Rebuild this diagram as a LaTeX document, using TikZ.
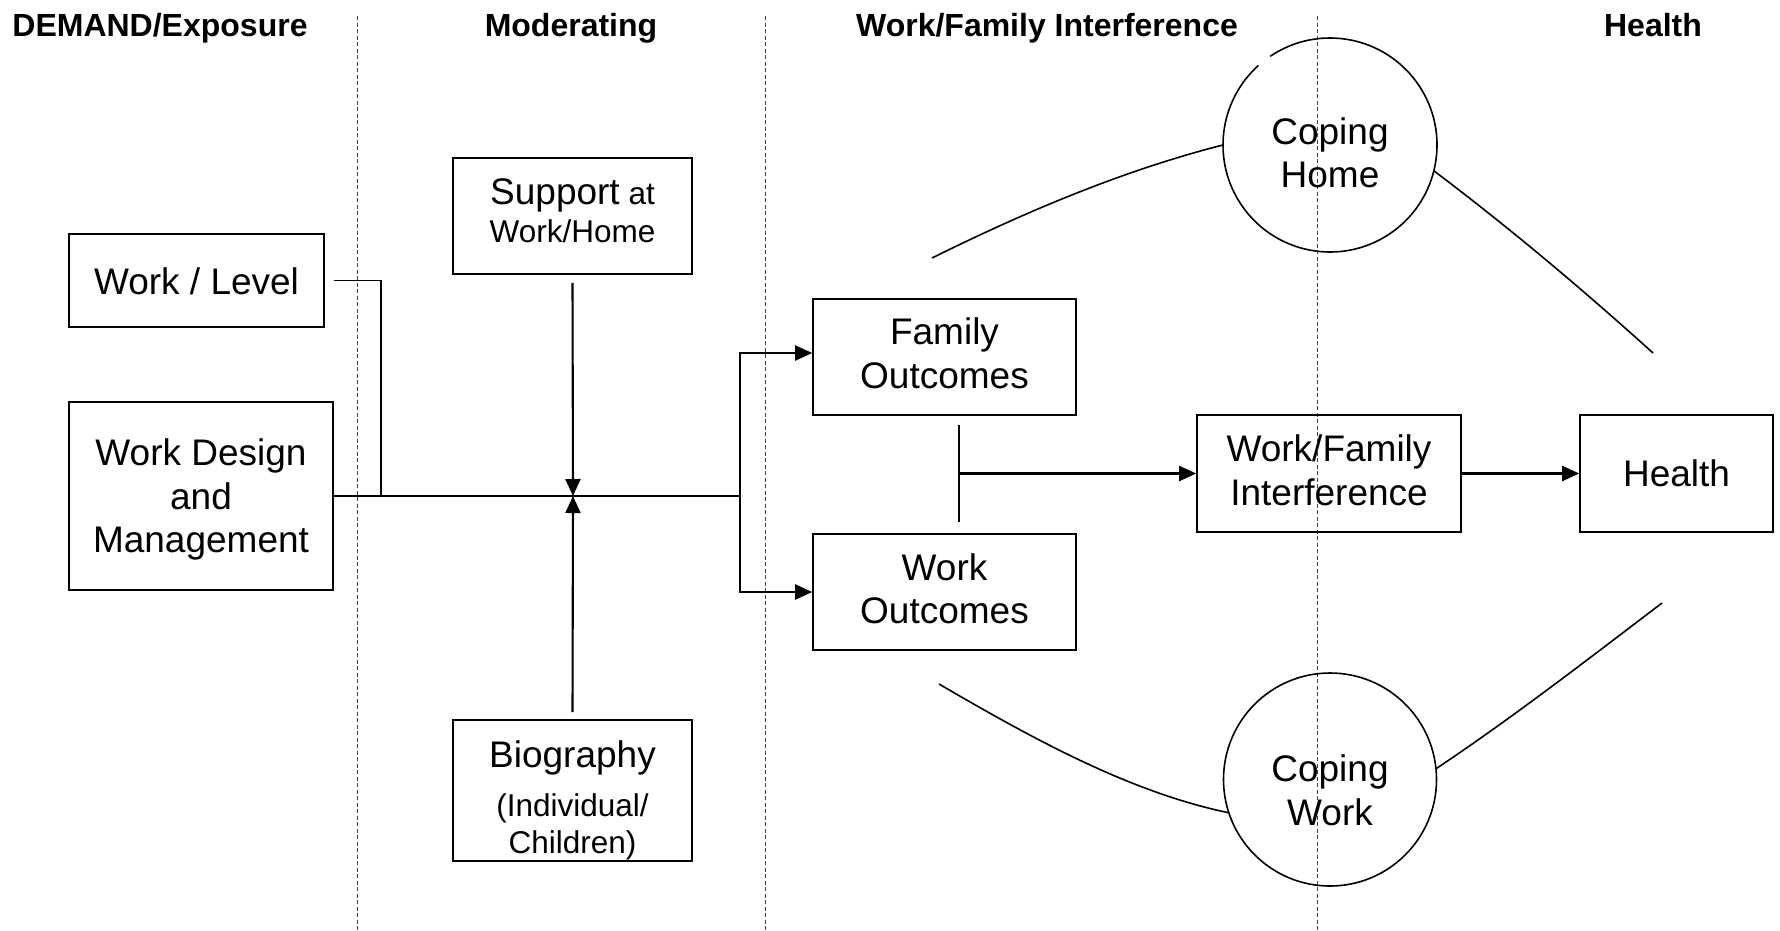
\documentclass[tikz,border=0pt]{standalone}
\usepackage{fontspec}
\setmainfont{Liberation Sans}
\usetikzlibrary{arrows.meta}
\begin{document}
\begin{tikzpicture}[x=1pt,y=-1pt,
  box/.style={draw, line width=1.6pt, inner sep=0pt},
  txt/.style={inner sep=0pt, align=center, font=\fontsize{37}{43.5}\selectfont},
  hdr/.style={font=\fontsize{32}{36}\selectfont\bfseries, inner sep=0pt, anchor=base},
  conn/.style={line width=2.1pt},
  thin/.style={line width=1.6pt},
  arr/.style={conn, -{Triangle[length=17pt,width=15pt]}},
  sep/.style={line width=0.9pt, dash pattern=on 4pt off 2.5pt, black!75},
  ring/.style={circle, minimum size=214pt, inner sep=0pt},
  curve/.style={line width=1.6pt}]

\useasboundingbox (0,0) rectangle (1780,930);

% column separators
\coordinate (s1t) at (357,16);  \coordinate (s1b) at (357,930);
\coordinate (s2t) at (765,16);  \coordinate (s2b) at (765,930);
\coordinate (s3t) at (1317,16); \coordinate (s3b) at (1317,930);
\draw[sep] (s1t) -- (s1b);
\draw[sep] (s2t) -- (s2b);
\draw[sep] (s3t) -- (s3b);

% headers
\node[hdr] (h1) at (160,36) {DEMAND/Exposure};
\node[hdr] (h2) at (571,36) {Moderating};
\node[hdr] (h3) at (1047,36) {Work/Family Interference};
\node[hdr] (h4) at (1653,36) {Health};

% boxes
\node[box, minimum width=255pt, minimum height=93pt] (wl) at (196.5,280.5) {};
\node[txt] (wlt) at (196.5,281.5) {Work / Level};

\node[box, minimum width=264pt, minimum height=188pt] (wd) at (201,496) {};
\node[txt] (wdt) at (201,499.5) {Work Design\\and\\Management};

\node[box, minimum width=239pt, minimum height=116pt] (sup) at (572.5,216) {};
\node[txt, font=\fontsize{31.5}{38.5}\selectfont] (supt) at (572.5,210.5)
  {{\fontsize{37}{38.5}\selectfont Support} at\\Work/Home};

\node[box, minimum width=239pt, minimum height=141pt] (bio) at (572.5,790.5) {};
\node[txt, font=\fontsize{31.5}{37}\selectfont] (biot) at (572.5,800)
  {{\fontsize{37}{43}\selectfont Biography}\\[12pt](Individual/\\Children)};

\node[box, minimum width=263pt, minimum height=116pt] (fo) at (944.5,357) {};
\node[txt] (fot) at (944.5,353.5) {Family\\Outcomes};

\node[box, minimum width=263pt, minimum height=116pt] (wo) at (944.5,592) {};
\node[txt] (wot) at (944.5,589) {Work\\Outcomes};

\node[box, minimum width=264pt, minimum height=117pt] (wfi) at (1329,473.5) {};
\node[txt] (wfit) at (1329,470.5) {Work/Family\\Interference};

\node[box, minimum width=193pt, minimum height=117pt] (hl) at (1676.5,473.5) {};
\node[txt] (hlt) at (1676.5,473.5) {Health};

% coping circles
\node[ring] (ch) at (1330,145) {};
\draw[curve] (ch.center) ++(-124:107) arc[start angle=-124, end angle=228, radius=107];
\node[txt] (cht) at (1330,153) {Coping\\Home};
\node[ring] (cw) at (1330,779.5) {};
\draw[curve] (cw.center) circle[radius=106.5];
\node[txt] (cwt) at (1330,790.5) {Coping\\Work};

% connectors
\coordinate (j1) at (381,496);
\coordinate (x)  at (573,496);
\coordinate (br) at (740,496);
\draw[thin] ([xshift=9pt]wl.east) -| (j1);
\draw[conn] (wd.east) -- (br);
\draw[arr] ([yshift=-8pt]sup.south) -- (x);
\draw[arr] ([yshift=7pt]bio.north) -- (x);
\draw[arr] (br) |- ([yshift=4pt]fo.west);
\draw[arr] (br) |- (wo.west);

\coordinate (vt) at (959,425);
\coordinate (vb) at (959,522);
\coordinate (vm) at (959,473.5);
\draw[thin] (vt) -- (vb);
\draw[arr] (vm) -- (wfi.west);
\draw[arr] (wfi.east) -- (hl.west);

% curves to coping circles
\coordinate (c1) at (932,258);
\coordinate (c2) at (939,684);
\coordinate (c3) at (1653,353);
\coordinate (c4) at (1662,603);
\draw[curve] (c1) .. controls (1029,210) and (1125,170) .. (ch.180);
\draw[curve] (c2) .. controls (1035,740) and (1130,792) .. (cw.198);
\draw[curve] (ch.-14) .. controls (1507,226) and (1580,287) .. (c3);
\draw[curve] (cw.6) .. controls (1512,718) and (1587,660) .. (c4);
\end{tikzpicture}
\end{document}
